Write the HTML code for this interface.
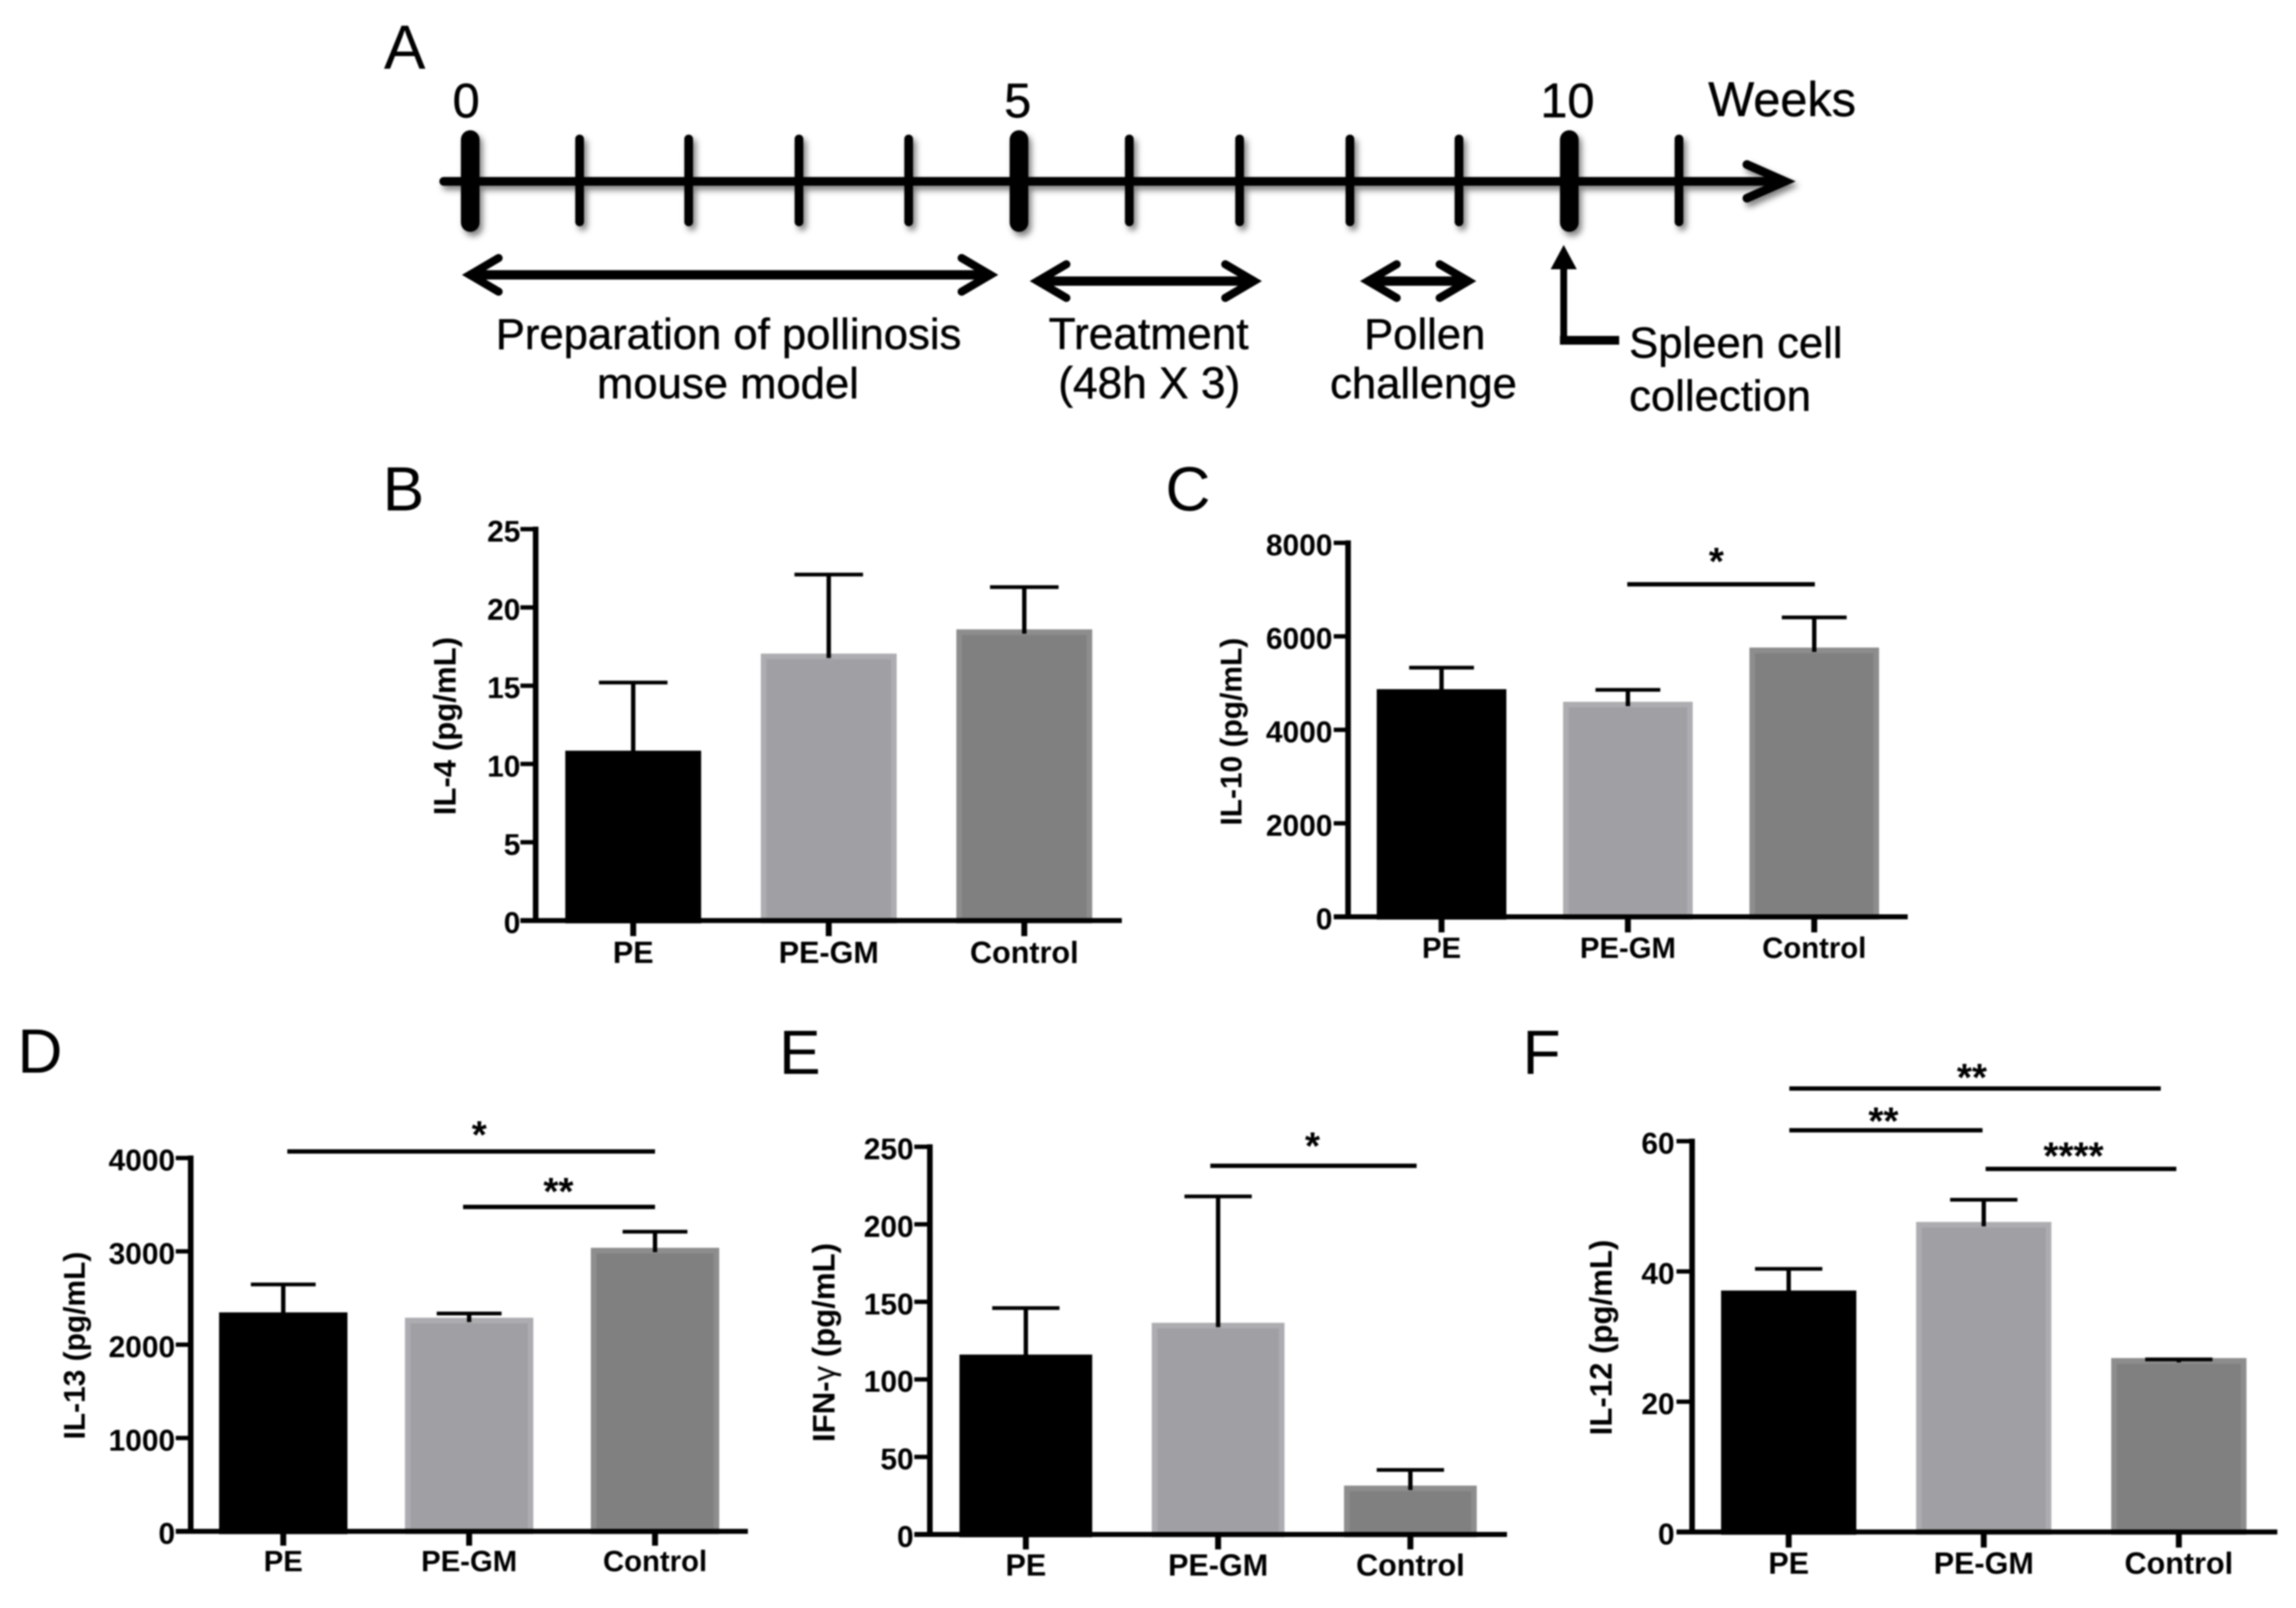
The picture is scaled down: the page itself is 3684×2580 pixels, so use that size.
<!DOCTYPE html>
<html lang="en">
<head>
<meta charset="utf-8">
<title>Pollinosis mouse model timeline and cytokine bar charts</title>
<style>
html,body{margin:0;padding:0;background:#fff;width:3684px;height:2580px;overflow:hidden}
svg{display:block;filter:blur(1.3px)}
text{font-family:"Liberation Sans",sans-serif;fill:#000}
.b{font-weight:700}
.tl{font-size:70px;stroke:#000;stroke-width:0.7px}
.tw{font-size:71px;stroke:#000;stroke-width:0.7px}
.wk{font-size:78px;stroke:#000;stroke-width:0.7px}
.pl{font-size:100px}
.st{font-size:62px;font-weight:700;text-anchor:middle}
</style>
</head>
<body>
<svg id="figure" xmlns="http://www.w3.org/2000/svg" width="3684" height="2580" viewBox="0 0 3684 2580">
<defs>
<filter id="soft-shadow" filterUnits="userSpaceOnUse" x="650" y="150" width="2300" height="300">
<feDropShadow dx="5" dy="7" stdDeviation="5" flood-color="#000" flood-opacity="0.5"/>
</filter>
</defs>
<rect width="3684" height="2580" fill="#fff"/>

<g id="panel-a">
<text class="pl" x="616" y="110">A</text>
<g>
<text class="wk" x="748" y="188" text-anchor="middle">0</text>
<text class="wk" x="1633" y="188" text-anchor="middle">5</text>
<text class="wk" x="2515" y="188" text-anchor="middle">10</text>
<text class="wk" x="2741" y="186">Weeks</text>
</g>
<g filter="url(#soft-shadow)" stroke="#000" fill="none">
<line x1="712" y1="291" x2="2862" y2="291" stroke-width="14" stroke-linecap="round"/>
<polyline points="2803,264 2864,291 2803,318" stroke-width="14" stroke-linecap="round"/>
<g stroke-width="30" stroke-linecap="round">
<line x1="754.5" y1="224" x2="754.5" y2="357"/>
<line x1="1635" y1="224" x2="1635" y2="357"/>
<line x1="2518" y1="224" x2="2518" y2="357"/>
</g>
<g stroke-width="14" stroke-linecap="round">
<line x1="930" y1="223" x2="930" y2="356"/>
<line x1="1105" y1="223" x2="1105" y2="356"/>
<line x1="1282" y1="223" x2="1282" y2="356"/>
<line x1="1458" y1="223" x2="1458" y2="356"/>
<line x1="1812" y1="223" x2="1812" y2="356"/>
<line x1="1989" y1="223" x2="1989" y2="356"/>
<line x1="2166" y1="223" x2="2166" y2="356"/>
<line x1="2341" y1="223" x2="2341" y2="356"/>
<line x1="2694" y1="223" x2="2694" y2="356"/>
</g>
</g>
<g stroke="#000" fill="none" stroke-width="13" stroke-linecap="round">
<g>
<line x1="756" y1="441" x2="1587" y2="441" stroke-width="15"/>
<polyline points="800,414 754,441 800,468"/>
<polyline points="1543,414 1589,441 1543,468"/>
</g>
<g>
<line x1="1667" y1="451" x2="2010" y2="451" stroke-width="15"/>
<polyline points="1711,424 1665,451 1711,478"/>
<polyline points="1966,424 2012,451 1966,478"/>
</g>
<g>
<line x1="2197" y1="451" x2="2354" y2="451" stroke-width="15"/>
<polyline points="2241,424 2195,451 2241,478"/>
<polyline points="2310,424 2356,451 2310,478"/>
</g>
</g>
<g>
<polygon points="2509,393 2488,432 2530,432" fill="#000"/>
<line x1="2509" y1="428" x2="2509" y2="553" stroke="#000" stroke-width="11"/>
<line x1="2503" y1="546" x2="2598" y2="546" stroke="#000" stroke-width="14"/>
</g>
<text class="tl" x="1169" y="560" text-anchor="middle">Preparation of pollinosis</text>
<text class="tl" x="1168" y="639" text-anchor="middle">mouse model</text>
<text class="tw" x="1843" y="560" text-anchor="middle">Treatment</text>
<text class="tw" x="1844" y="639" text-anchor="middle">(48h X 3)</text>
<text class="tl" x="2286" y="560" text-anchor="middle">Pollen</text>
<text class="tl" x="2284" y="639" text-anchor="middle">challenge</text>
<text class="tl" x="2614" y="574">Spleen cell</text>
<text class="tl" x="2614" y="659">collection</text>
</g>

<text class="pl" x="614" y="819">B</text>
<text class="pl" x="1870" y="819">C</text>
<text class="pl" x="28" y="1721">D</text>
<text class="pl" x="1250" y="1723">E</text>
<text class="pl" x="2443" y="1723">F</text>

<g id="charts"></g>

<g id="significance" stroke-width="0">
<g>
<rect x="2611" y="934" width="301" height="7" fill="#000"/>
<text class="st" x="2754" y="922">*</text>
</g>
<g>
<rect x="461" y="1844" width="590" height="7" fill="#000"/>
<text class="st" x="769" y="1842">*</text>
<rect x="743" y="1933" width="308" height="7" fill="#000"/>
<text class="st" x="896" y="1933">**</text>
</g>
<g>
<rect x="1942" y="1867" width="331" height="7" fill="#000"/>
<text class="st" x="2106" y="1860">*</text>
</g>
<g>
<rect x="2871" y="1743" width="596" height="7" fill="#000"/>
<text class="st" x="3164" y="1750">**</text>
<rect x="2871" y="1810" width="310" height="7" fill="#000"/>
<text class="st" x="3022" y="1820">**</text>
<rect x="3186" y="1872" width="306" height="7" fill="#000"/>
<text class="st" x="3327" y="1876">****</text>
</g>
</g>
</svg>

<script>
const categories = ['PE', 'PE-GM', 'Control'];

const il4Values = [10.85, 17.05, 18.6];
const il4Errors = [15.2, 22.1, 21.3];
const il4Ticks = [0, 5, 10, 15, 20, 25];

const il10Values = [4870, 4600, 5760];
const il10Errors = [5330, 4855, 6405];
const il10Ticks = [0, 2000, 4000, 6000, 8000];

const il13Values = [2346, 2289, 3038];
const il13Errors = [2645, 2334, 3210];
const il13Ticks = [0, 1000, 2000, 3000, 4000];

const ifnValues = [116, 136.5, 31.5];
const ifnErrors = [146, 218, 41.6];
const ifnTicks = [0, 50, 100, 150, 200, 250];

const il12Values = [37.07, 47.6, 26.7];
const il12Errors = [40.4, 51, 26.5];
const il12Ticks = [0, 20, 40, 60];

const SVG_NS = 'http://www.w3.org/2000/svg';
const barFills = ['#000000', '#a0a0a4', '#808080'];
const barEdges = ['#000000', '#adadb1', '#8d8d8d'];

const panels = [
  { key: 'il-4', values: il4Values, errors: il4Errors, ticks: il4Ticks, title: 'IL-4 (pg/mL)',
    axisX: 859.5, top: 849, zero: 1477, right: 1800, tickLeft: 835, tickBottom: 1502,
    firstCenter: 1016, step: 313.75, barWidth: 218, capHalf: 55, titleSize: 50, labelSize: 49,
    titleX: 731, titleY: 1165, tickRight: 835, labelY: 1545 },
  { key: 'il-10', values: il10Values, errors: il10Errors, ticks: il10Ticks, title: 'IL-10 (pg/mL)',
    axisX: 2163, top: 871, zero: 1471, right: 3061, tickLeft: 2140, tickBottom: 1496,
    firstCenter: 2313, step: 299, barWidth: 208, capHalf: 52, titleSize: 48, labelSize: 47,
    titleX: 1992, titleY: 1174, tickRight: 2138, labelY: 1537 },
  { key: 'il-13', values: il13Values, errors: il13Errors, ticks: il13Ticks, title: 'IL-13 (pg/mL)',
    axisX: 306, top: 1858, zero: 2457, right: 1200, tickLeft: 282, tickBottom: 2480,
    firstCenter: 454.5, step: 298.25, barWidth: 206, capHalf: 52, titleSize: 48, labelSize: 47,
    titleX: 136, titleY: 2159, tickRight: 281, labelY: 2521 },
  { key: 'ifn-gamma', values: ifnValues, errors: ifnErrors, ticks: ifnTicks, title: 'IFN-<tspan font-weight="400">\u03b3</tspan> (pg/mL)',
    axisX: 1492, top: 1840, zero: 2462, right: 2418, tickLeft: 1467, tickBottom: 2486,
    firstCenter: 1646, step: 308.5, barWidth: 213, capHalf: 54, titleSize: 50, labelSize: 49,
    titleX: 1339, titleY: 2154, tickRight: 1466, labelY: 2528 },
  { key: 'il-12', values: il12Values, errors: il12Errors, ticks: il12Ticks, title: 'IL-12 (pg/mL)',
    axisX: 2715, top: 1831, zero: 2458, right: 3654, tickLeft: 2690, tickBottom: 2483,
    firstCenter: 2870, step: 313, barWidth: 217, capHalf: 54, titleSize: 50, labelSize: 49,
    titleX: 2586, titleY: 2146, tickRight: 2687, labelY: 2525 }
];

function shape(tag, attrs, parent) {
  const el = document.createElementNS(SVG_NS, tag);
  Object.keys(attrs).forEach(function (k) { el.setAttribute(k, attrs[k]); });
  parent.appendChild(el);
  return el;
}

const chartsRoot = document.getElementById('charts');

panels.forEach(function (p) {
  const maxTick = p.ticks[p.ticks.length - 1];
  const yScale = function (v) { return p.zero - (v / maxTick) * (p.zero - p.top); };
  const xScale = function (i) { return p.firstCenter + i * p.step; };

  const g = shape('g', {}, chartsRoot);
  
  

  p.values.forEach(function (v, i) {
    const yTop = yScale(v);
    const inset = 4.5;
    const bar = shape('rect', {
      x: xScale(i) - p.barWidth / 2 + inset,
      y: yTop + inset,
      width: p.barWidth - 2 * inset,
      height: p.zero - yTop - inset,
      fill: barFills[i],
      stroke: barEdges[i],
      'stroke-width': 9
    }, g);
    
    
  });

  p.errors.forEach(function (e, i) {
    const yErr = yScale(e);
    const yBar = yScale(p.values[i]);
    const stem = shape('line', {
      x1: xScale(i), x2: xScale(i),
      y1: yErr, y2: yBar + 7,
      stroke: '#000', 'stroke-width': 7
    }, g);
    
    
    const cap = shape('line', {
      x1: xScale(i) - p.capHalf, x2: xScale(i) + p.capHalf,
      y1: yErr, y2: yErr,
      stroke: '#000', 'stroke-width': 6
    }, g);
    
    
  });

  const yAxis = shape('line', {
    x1: p.axisX, x2: p.axisX,
    y1: p.top - 4, y2: p.zero + 4,
    stroke: '#000', 'stroke-width': 9
  }, g);
  
  

  const xAxis = shape('line', {
    x1: p.tickLeft, x2: p.right,
    y1: p.zero, y2: p.zero,
    stroke: '#000', 'stroke-width': 8
  }, g);
  
  

  p.ticks.forEach(function (t) {
    const yt = yScale(t);
    const tick = shape('line', {
      x1: p.tickLeft, x2: p.axisX,
      y1: yt, y2: yt,
      stroke: '#000', 'stroke-width': 7
    }, g);
    
    
    const label = shape('text', {
      x: p.tickRight, y: yt + 20,
      'text-anchor': 'end', class: 'b', 'font-size': 48
    }, g);
    label.textContent = String(t);
    
    
  });

  categories.forEach(function (c, i) {
    const tick = shape('line', {
      x1: xScale(i), x2: xScale(i),
      y1: p.zero, y2: p.tickBottom,
      stroke: '#000', 'stroke-width': 9.5
    }, g);
    
    
    const label = shape('text', {
      x: xScale(i), y: p.labelY,
      'text-anchor': 'middle', class: 'b', 'font-size': p.labelSize
    }, g);
    label.textContent = c;
    
    
  });

  const title = shape('text', {
    transform: 'translate(' + p.titleX + ',' + p.titleY + ') rotate(-90)',
    'text-anchor': 'middle', class: 'b', 'font-size': p.titleSize
  }, g);
  title.innerHTML = p.title;
  
  
});
</script>
</body>
</html>
